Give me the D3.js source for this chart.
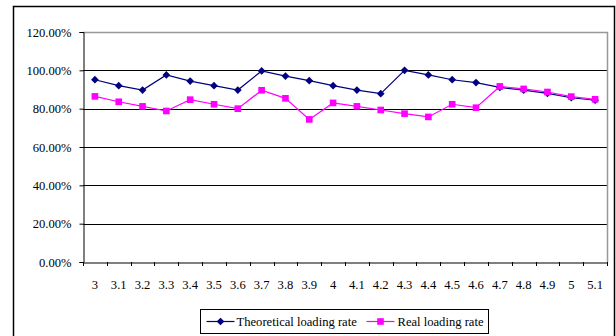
<!DOCTYPE html>
<html>
<head>
<meta charset="utf-8">
<script src="https://cdn.jsdelivr.net/npm/d3@7.9.0/dist/d3.min.js"></script>
<style>
  body { margin: 0; background: #fff; }
  svg text { font-family: "Liberation Serif", "Times New Roman", Times, serif !important; }
</style>
</head>
<body>
<svg id="chart" width="616" height="336"></svg>
<script>
const categories = ["3","3.1","3.2","3.3","3.4","3.5","3.6","3.7","3.8","3.9","4",
  "4.1","4.2","4.3","4.4","4.5","4.6","4.7","4.8","4.9","5","5.1"];
const theoretical = [95.1, 92.0, 89.7, 97.6, 94.4, 92.0, 89.7, 99.7, 97.0, 94.6, 92.0,
  89.7, 87.8, 100.0, 97.6, 95.1, 93.6, 91.1, 89.7, 88.0, 85.7, 84.4];
const real = [86.4, 83.6, 81.2, 78.8, 84.7, 82.3, 80.0, 89.6, 85.4, 74.4, 83.0,
  81.2, 79.3, 77.4, 75.7, 82.3, 80.5, 91.6, 90.3, 88.7, 86.3, 84.9];
const yTicks = [0, 20, 40, 60, 80, 100, 120];

const svg = d3.select("#chart");
const margin = { top: 32, right: 9, bottom: 74, left: 83 };
const width = 616 - margin.left - margin.right;
const height = 336 - margin.top - margin.bottom;
const fontSize = "12.6px";

// outer chart frame
svg.append("rect")
  .attr("x", 13.5).attr("y", 6.5)
  .attr("width", 601).attr("height", 340)
  .attr("fill", "none")
  .attr("stroke", "#000")
  .attr("stroke-width", 1.5);

const g = svg.append("g")
  .attr("transform", `translate(${margin.left},${margin.top})`);

const x = d3.scaleBand().domain(categories).range([0, width]);
const y = d3.scaleLinear().domain([0, 120]).range([height, 0]);

// gridlines
g.selectAll(".grid")
  .data(yTicks.filter(d => d > 0 && d < 120))
  .enter().append("line")
  .attr("x1", 0).attr("x2", width)
  .attr("y1", d => Math.round(y(d)) + 0.5)
  .attr("y2", d => Math.round(y(d)) + 0.5)
  .attr("stroke", "#000");

// plot area border (top + right)
g.append("path")
  .attr("d", `M0,${Math.round(y(120)) + 0.5}H${width + 0.5}V${height}`)
  .attr("fill", "none")
  .attr("stroke", "#999")
  .attr("stroke-width", 1.5);

// y axis
const yAxis = g.append("g")
  .attr("transform", "translate(0.5,0)")
  .call(d3.axisLeft(y).tickValues(yTicks).tickSize(4).tickPadding(8)
    .tickFormat(d => d.toFixed(2) + "%"));
yAxis.select(".domain").attr("stroke", "#000");
yAxis.selectAll("text").style("font-size", fontSize).attr("fill", "#000");

// x axis
const xAxis = g.append("g")
  .attr("transform", `translate(0,${height + 0.5})`)
  .call(d3.axisBottom(x).tickSize(0).tickPadding(18));
xAxis.select(".domain").attr("stroke", "#000");
xAxis.selectAll("text").style("font-size", fontSize).attr("fill", "#000");
// tick marks at band boundaries
g.selectAll(".xtick")
  .data(d3.range(categories.length + 1))
  .enter().append("line")
  .attr("x1", i => Math.round(i * x.step()) + 0.5)
  .attr("x2", i => Math.round(i * x.step()) + 0.5)
  .attr("y1", height).attr("y2", height + 4)
  .attr("stroke", "#000");

const cx = (d, i) => x(categories[i]) + x.bandwidth() / 2;
const line = d3.line().x(cx).y(d => y(d));

const series = [
  { name: "Theoretical loading rate", values: theoretical, color: "#000080", size: 30, rot: 45 },
  { name: "Real loading rate", values: real, color: "#FF00FF", size: 44, rot: 0 }
];
const marker = d3.symbol().type(d3.symbolSquare);

series.forEach(s => {
  g.append("path")
    .attr("d", line(s.values))
    .attr("fill", "none")
    .attr("stroke", s.color)
    .attr("stroke-width", 1.2);
  g.selectAll(null)
    .data(s.values)
    .enter().append("path")
    .attr("d", marker.size(s.size)())
    .attr("transform", (d, i) => `translate(${cx(d, i)},${y(d)}) rotate(${s.rot})`)
    .attr("fill", s.color);
});

// legend
const legend = svg.append("g").attr("transform", "translate(200.5,309.5)");
legend.append("rect")
  .attr("width", 288).attr("height", 24)
  .attr("fill", "#fff").attr("stroke", "#000");
const items = [
  { s: series[0], x: 6, tx: 36 },
  { s: series[1], x: 166, tx: 197 }
];
items.forEach(it => {
  const lg = legend.append("g").attr("transform", `translate(${it.x},12)`);
  lg.append("line").attr("x1", 0).attr("x2", 28)
    .attr("stroke", it.s.color).attr("stroke-width", 1.2);
  lg.append("path")
    .attr("d", marker.size(it.s.size)())
    .attr("transform", `translate(14,0) rotate(${it.s.rot})`)
    .attr("fill", it.s.color);
  legend.append("text")
    .attr("x", it.tx).attr("y", 16)
    .style("font-size", fontSize)
    .text(it.s.name);
});
</script>
</body>
</html>
